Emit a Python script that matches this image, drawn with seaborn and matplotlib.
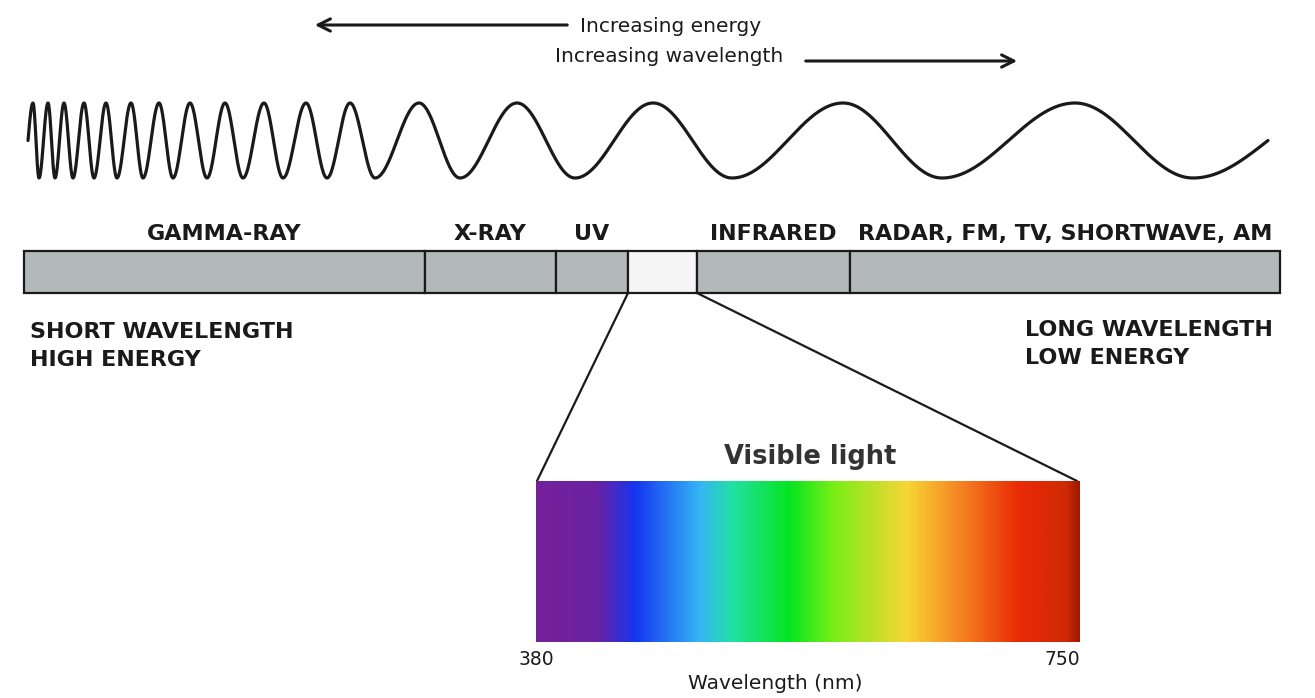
import matplotlib
matplotlib.use('Agg')

import numpy as np
import matplotlib.pyplot as plt
import seaborn as sns
from matplotlib.colors import LinearSegmentedColormap

# wave: x positions of crests and troughs (pixels across the picture)
wave_start = 28
wave_end = 1268
crest_x = [33, 48, 64, 84, 106, 131, 159, 190, 225, 264, 306, 350, 419, 517, 653, 843, 1075]
trough_x = [39, 55, 73, 94, 117, 143, 173, 207, 243, 283, 327, 375, 460, 575, 732, 942, 1193]

# spectrum bands
band_names = ["GAMMA-RAY", "X-RAY", "UV", "", "INFRARED", "RADAR, FM, TV, SHORTWAVE, AM"]
band_edges = [24, 425, 556, 628, 697, 850, 1280]
band_fills = ["#b3b8b8", "#b3b8b8", "#b3b8b8", "#f4f5f4", "#b3b8b8", "#b3b8b8"]

# visible light gradient stops (nm)
stop_nm = [380, 421, 447, 491, 513, 552, 583, 633, 669, 709, 741, 750]
stop_colors = ["#75209a", "#6a22a2", "#1535f0", "#35b5f5", "#22e0a5", "#05e520",
               "#7aee15", "#f8d535", "#f58422", "#ea2a05", "#d02a05", "#a01a00"]
vis_ticks = [380, 750]

sns.set_theme(style="white")
plt.rcParams['font.family'] = ['DejaVu Sans']
ink = "#1a1a1a"

fig = plt.figure(figsize=(13.15, 6.98), dpi=100)
ax = fig.add_axes([0, 0, 1, 1])
ax.set_xlim(0, 1315)
ax.set_ylim(698, 0)
ax.axis('off')

# build the wave from the crest / trough positions
ext_x = np.array([wave_start] + sorted(crest_x + trough_x) + [wave_end], dtype=float)
ext_phase = np.concatenate([[-0.5], np.arange(len(ext_x) - 2), [len(ext_x) - 2.5]]) * np.pi
xs = np.linspace(wave_start, wave_end, 4000)
ph = np.interp(xs, ext_x, ext_phase)
ys = 140.5 - 37.5 * np.cos(ph)
sns.lineplot(x=xs, y=ys, sort=False, color=ink, lw=2.3, ax=ax)

# arrows + captions
ax.annotate("", xy=(312, 25), xytext=(570, 25),
            arrowprops=dict(arrowstyle="->", lw=2.2, color=ink, mutation_scale=22))
ax.annotate("", xy=(1020, 61), xytext=(803, 61),
            arrowprops=dict(arrowstyle="->", lw=2.2, color=ink, mutation_scale=22))
ax.text(580, 27, "Increasing energy", fontsize=14.5, color=ink, ha="left", va="center")
ax.text(555, 57, "Increasing wavelength", fontsize=14.5, color=ink, ha="left", va="center")

# spectrum bar
left = np.array(band_edges[:-1])
widths = np.diff(band_edges)
ax.barh(272, widths, left=left, height=42, color=band_fills, edgecolor=ink, lw=1.6)
for name, l, w in zip(band_names, left, widths):
    if name:
        ax.text(l + w / 2, 234, name, fontsize=16, fontweight="bold", color=ink,
                ha="center", va="center")

ax.text(30, 346, "SHORT WAVELENGTH\nHIGH ENERGY", fontsize=16, fontweight="bold",
        color=ink, ha="left", va="center", linespacing=1.55)
ax.text(1025, 344, "LONG WAVELENGTH\nLOW ENERGY", fontsize=16, fontweight="bold",
        color=ink, ha="left", va="center", linespacing=1.55)

# zoom lines to the visible light panel
ax.plot([band_edges[3], 537], [293, 481], color=ink, lw=1.6)
ax.plot([band_edges[4], 1077], [293, 481], color=ink, lw=1.6)
ax.text(810, 457, "Visible light", fontsize=18.5, fontweight="bold", color="#333333",
        ha="center", va="center")

# visible light gradient
vx0, vx1, vy0, vy1 = 536, 1080, 481, 642
vax = fig.add_axes([vx0 / 1315, 1 - vy1 / 698, (vx1 - vx0) / 1315, (vy1 - vy0) / 698])
pos = (np.array(stop_nm) - stop_nm[0]) / (stop_nm[-1] - stop_nm[0])
cmap = LinearSegmentedColormap.from_list("vis", list(zip(pos, stop_colors)))
grad = np.linspace(stop_nm[0], stop_nm[-1], 800)[None, :]
vax.imshow(grad, cmap=cmap, aspect="auto", extent=[stop_nm[0], stop_nm[-1], 0, 1])
vax.set_xlim(stop_nm[0], stop_nm[-1])
vax.set_yticks([])
vax.set_xticks(vis_ticks)
vax.set_xticklabels([str(t) for t in vis_ticks], fontsize=13.5, color=ink)
vax.get_xticklabels()[-1].set_ha("right")
vax.tick_params(axis="x", length=0, pad=6)
for s in vax.spines.values():
    s.set_visible(False)
vax.set_xlabel("Wavelength (nm)", fontsize=14.5, color=ink)
vax.xaxis.set_label_coords((775 - vx0) / (vx1 - vx0), -0.20)

fig.savefig("out.png", dpi=100)
